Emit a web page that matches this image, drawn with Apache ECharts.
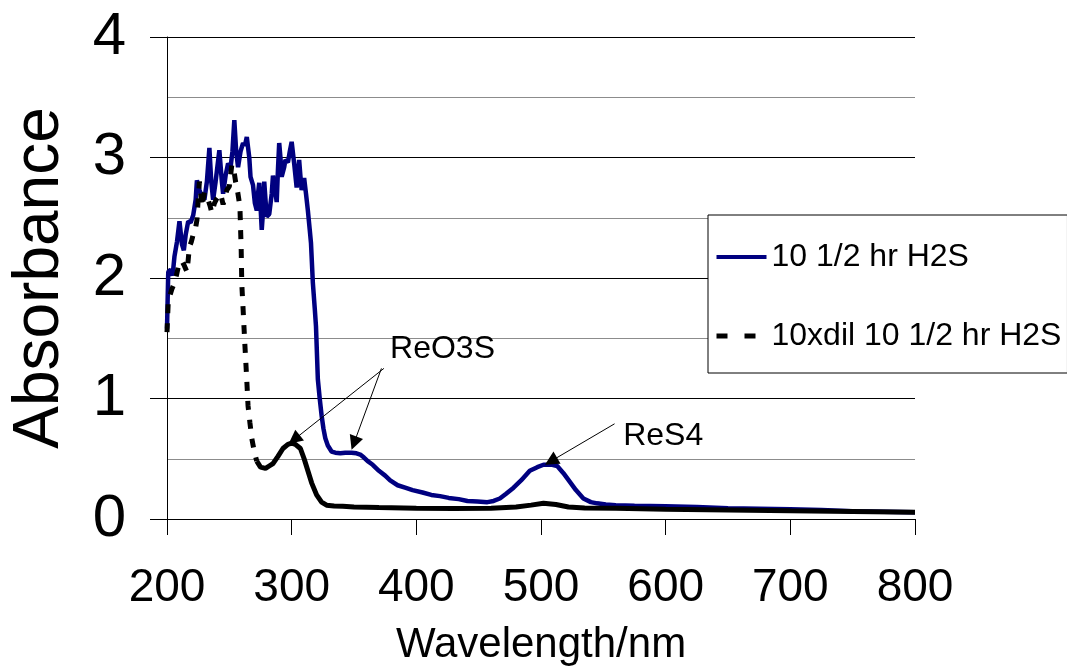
<!DOCTYPE html>
<html>
<head>
<meta charset="utf-8">
<script src="https://cdn.jsdelivr.net/npm/echarts/dist/echarts.min.js"></script>
<style>
  html, body { margin: 0; padding: 0; background: #fff; }
  #chart { width: 1067px; height: 671px; }
</style>
</head>
<body>
<div id="chart"></div>
<script>
// UV-vis spectra: 10 1/2 hr H2S sample and its 10x dilution
const xTicks = [200, 300, 400, 500, 600, 700, 800];
const yTicks = [0, 1, 2, 3, 4];

const fullWavelength = [
  200, 201, 203, 204.5, 206, 208, 210, 212, 213.5, 215, 217, 219, 221, 223, 224, 226, 228, 230,
  232, 234, 235.5, 237, 239, 242, 244, 245, 247, 249, 251, 252.5, 254, 255.5, 257, 259, 261,
  262.5, 264, 266, 267, 269, 270.5, 272, 273, 274, 275, 276, 277, 278, 279, 280, 282, 283, 284,
  285, 286.5, 288, 289, 290, 291, 292, 294, 295, 297, 298.5, 300, 302, 304, 305, 306, 307, 308,
  310, 311.5, 313, 314.5, 315.5, 317, 318.5, 319.5, 321, 322.5, 324, 325.5, 327, 329, 332, 335,
  339, 343, 348, 352, 355, 358, 361, 365, 370, 375, 379, 385, 391, 397, 405, 412, 419, 426, 434,
  441, 449, 457, 462, 467, 472, 478, 484, 491, 497, 502, 505, 509, 513, 518, 523, 528, 534, 540,
  545, 552, 560, 575, 600, 625, 650, 675, 700, 725, 750, 775, 800
];
const fullAbsorbance = [
  1.58, 2.05, 2.07, 2.02, 2.18, 2.30, 2.47, 2.28, 2.23, 2.36, 2.47, 2.46, 2.52, 2.65, 2.81, 2.73, 2.68, 2.65,
  2.80, 3.08, 2.80, 2.65, 2.80, 3.06, 2.80, 2.70, 2.85, 2.95, 2.92, 3.05, 3.31, 3.05, 2.92, 3.05, 3.12,
  3.10, 3.17, 3.00, 2.84, 2.77, 2.62, 2.56, 2.70, 2.79, 2.60, 2.40, 2.55, 2.80, 2.65, 2.51, 2.53, 2.54, 2.70,
  2.85, 2.75, 2.63, 2.90, 3.12, 3.00, 2.84, 2.92, 2.98, 2.96, 3.05, 3.13, 2.95, 2.75, 2.85, 2.98, 2.85, 2.73,
  2.83, 2.70, 2.56, 2.40, 2.29, 1.96, 1.75, 1.60, 1.16, 1.00, 0.86, 0.75, 0.67, 0.61, 0.56, 0.55,
  0.545, 0.55, 0.55, 0.545, 0.535, 0.51, 0.48, 0.45, 0.40, 0.36, 0.32, 0.28, 0.26, 0.24, 0.22, 0.20, 0.19, 0.175, 0.165,
  0.15, 0.145, 0.14, 0.15, 0.17, 0.21, 0.26, 0.32, 0.40, 0.43, 0.45, 0.45, 0.45, 0.44, 0.38, 0.31, 0.24, 0.17, 0.14,
  0.13, 0.12, 0.115, 0.11, 0.105, 0.10, 0.09, 0.085, 0.08, 0.075, 0.065, 0.06, 0.055
];

const dilWavelength = [
  200, 201, 202.5, 204, 206, 207.5, 209, 211, 212, 214, 216, 217, 218, 219.5, 221, 223, 224, 225,
  226, 227, 228, 230, 231.5, 233, 234.5, 236, 237, 238, 240, 243, 245, 246.5, 248, 250, 251, 252,
  253, 254, 255, 256, 257.5, 258.5, 259.5, 260, 261, 262.5, 264, 265, 266.5, 268, 270, 272, 275,
  279, 282, 285, 289, 293, 297, 300, 303, 307, 310, 313, 316, 320, 324, 328, 334, 341, 350, 370,
  400, 430, 460, 480, 492, 502, 512, 522, 535, 560, 600, 650, 700, 750, 800
];
const dilAbsorbance = [
  1.55, 1.80, 1.86, 1.91, 1.96, 2.02, 2.09, 2.10, 2.14, 2.10, 2.05, 2.15, 2.26, 2.30, 2.36, 2.42, 2.48, 2.65,
  2.80, 2.70, 2.59, 2.71, 2.68, 2.65, 2.60, 2.54, 2.58, 2.62, 2.66, 2.70, 2.61, 2.67, 2.73, 2.76, 2.85, 2.94,
  2.92, 2.87, 2.80, 2.76, 2.66, 2.59, 2.24, 1.95, 1.75, 1.44, 1.15, 0.94, 0.80, 0.67, 0.56, 0.48, 0.43,
  0.42, 0.44, 0.46, 0.52, 0.585, 0.62, 0.63, 0.62, 0.585, 0.50, 0.40, 0.30, 0.20, 0.14, 0.115, 0.108, 0.105, 0.10, 0.095,
  0.09, 0.088, 0.09, 0.10, 0.115, 0.13, 0.12, 0.10, 0.092, 0.09, 0.08, 0.075, 0.068, 0.062, 0.055
];

// Band assignments: label anchor and arrows (tail -> head), in data units
const bandLabels = [
  { name: 'ReO3S', at: [421, 1.41] },
  { name: 'ReS4', at: [598, 0.69] }
];
const bandArrows = [
  { from: [374, 1.25], to: [302, 0.66] },
  { from: [372, 1.25], to: [350, 0.63] },
  { from: [559, 0.79], to: [508, 0.48] }
];

const FULL_NAME = '10 1/2 hr H2S';
const DIL_NAME = '10xdil 10 1/2 hr H2S';
const DASH_END = 272; // the dilute trace is dashed across its steep, noisy part

const zip = (xs, ys) => xs.map((x, i) => [x, ys[i]]);
const fullData = zip(fullWavelength, fullAbsorbance);
const dilData = zip(dilWavelength, dilAbsorbance);
const dilDashed = dilData.filter(p => p[0] <= DASH_END);
const dilSolid = dilData.filter(p => p[0] >= DASH_END);

const FONT = '"Liberation Sans", Arial, sans-serif';
const hiddenSymbol = { color: 'rgba(0,0,0,0)', borderWidth: 0, opacity: 0 };

const chart = echarts.init(document.getElementById('chart'), null, { renderer: 'canvas' });

chart.setOption({
  animation: false,
  backgroundColor: '#ffffff',
  textStyle: { fontFamily: FONT, color: '#000' },
  grid: { left: 167, right: 152, top: 37, bottom: 150, containLabel: false },
  legend: {
    orient: 'vertical',
    left: 708,
    top: 215,
    padding: [26, 6, 21, 6],
    itemGap: 47,
    itemWidth: 50,
    itemHeight: 14,
    borderColor: '#000',
    borderWidth: 1,
    backgroundColor: '#fff',
    textStyle: { fontFamily: FONT, fontSize: 32, color: '#000' },
    data: [
      { name: FULL_NAME, itemStyle: hiddenSymbol, lineStyle: { color: '#000080', width: 4, type: 'solid' } },
      { name: DIL_NAME, itemStyle: hiddenSymbol, lineStyle: { color: '#000', width: 5, type: [11, 17] } }
    ]
  },
  xAxis: {
    type: 'value',
    min: xTicks[0],
    max: xTicks[xTicks.length - 1],
    interval: xTicks[1] - xTicks[0],
    name: 'Wavelength/nm',
    nameLocation: 'middle',
    nameGap: 105,
    nameTextStyle: { fontFamily: FONT, fontSize: 42, color: '#000' },
    axisLine: { show: true, onZero: false, lineStyle: { color: '#000', width: 1 } },
    axisTick: { show: true, inside: false, length: 16, lineStyle: { color: '#000', width: 1 } },
    axisLabel: { margin: 46, fontFamily: FONT, fontSize: 46, color: '#000' },
    splitLine: { show: false }
  },
  yAxis: {
    type: 'value',
    min: yTicks[0],
    max: yTicks[yTicks.length - 1],
    interval: yTicks[1] - yTicks[0],
    name: 'Absorbance',
    nameLocation: 'middle',
    nameGap: 95,
    nameTextStyle: { fontFamily: FONT, fontSize: 64, color: '#000' },
    axisLine: { show: true, onZero: false, lineStyle: { color: '#000', width: 1 } },
    axisTick: { show: true, inside: false, length: 17, lineStyle: { color: '#000', width: 1 } },
    axisLabel: { margin: 41, fontFamily: FONT, fontSize: 60, color: '#000' },
    splitLine: { show: true, lineStyle: { color: '#000', width: 1 } },
    minorTick: { show: false, splitNumber: 2 },
    minorSplitLine: { show: true, lineStyle: { color: '#8c8c8c', width: 1 } }
  },
  series: [
    {
      name: FULL_NAME,
      type: 'line',
      data: fullData,
      symbol: 'none',
      lineStyle: { color: '#000080', width: 4.5 },
      itemStyle: { color: '#000080' },
      emphasis: { disabled: true },
      markLine: {
        silent: true,
        symbol: ['none', 'triangle'],
        symbolSize: 14,
        label: { show: false },
        lineStyle: { color: '#000', width: 1, type: 'solid' },
        emphasis: { disabled: true },
        data: bandArrows.map(a => [{ coord: a.from }, { coord: a.to }])
      },
      markPoint: {
        silent: true,
        symbol: 'rect',
        symbolSize: 1,
        itemStyle: { color: 'rgba(0,0,0,0)' },
        label: {
          show: true,
          position: 'inside',
          formatter: '{b}',
          fontFamily: FONT,
          fontSize: 32,
          color: '#000'
        },
        emphasis: { disabled: true },
        data: bandLabels.map(l => ({ name: l.name, coord: l.at }))
      }
    },
    {
      name: DIL_NAME,
      type: 'line',
      data: dilDashed,
      symbol: 'none',
      lineStyle: { color: '#000', width: 5, type: [9, 10] },
      itemStyle: { color: '#000' },
      emphasis: { disabled: true }
    },
    {
      name: DIL_NAME,
      type: 'line',
      data: dilSolid,
      symbol: 'none',
      lineStyle: { color: '#000', width: 5, type: 'solid' },
      itemStyle: { color: '#000' },
      emphasis: { disabled: true }
    }
  ]
});
</script>
</body>
</html>
